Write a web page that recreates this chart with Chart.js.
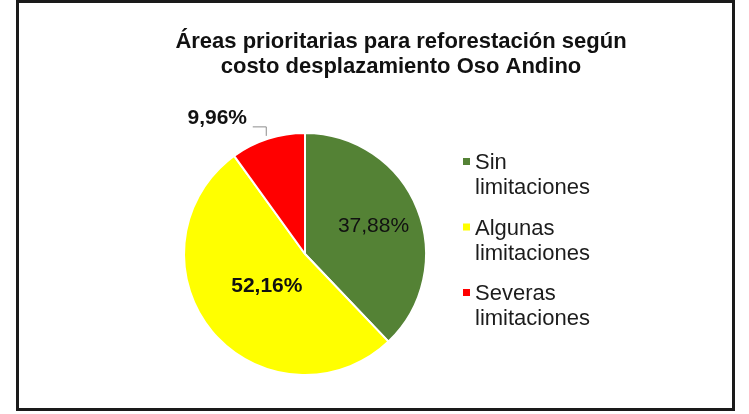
<!DOCTYPE html>
<html>
<head>
<meta charset="utf-8">
<script src="https://cdn.jsdelivr.net/npm/chart.js@4.4.1/dist/chart.umd.min.js"></script>
<style>
  html, body { margin: 0; padding: 0; background: #fff; }
  #wrap { width: 749px; height: 414px; }
</style>
</head>
<body>
<div id="wrap"><canvas id="myChart" width="749" height="414"></canvas></div>
<script>
const titleLines = ['Áreas prioritarias para reforestación según', 'costo desplazamiento Oso Andino'];
const categories = [['Sin', 'limitaciones'], ['Algunas', 'limitaciones'], ['Severas', 'limitaciones']];
const shares = [37.88, 52.16, 9.96];
const sliceColors = ['#548235', '#ffff00', '#ff0000'];

const FONT = '"Liberation Sans", Arial, sans-serif';

function pct(v) {
    return v.toFixed(2).replace('.', ',') + '%';
}

// frame, title, value labels and legend drawn on the canvas
const decorations = {
    id: 'decorations',
    afterDraw(chart) {
        const ctx = chart.ctx;
        ctx.save();

        ctx.strokeStyle = '#1a1a1a';
        ctx.lineWidth = 3;
        ctx.strokeRect(17.5, 1.5, 716, 408);

        ctx.fillStyle = '#111';
        ctx.font = 'bold 22px ' + FONT;
        ctx.textAlign = 'center';
        ctx.textBaseline = 'alphabetic';
        ctx.fillText(titleLines[0], 401, 48);
        ctx.fillText(titleLines[1], 401, 73);

        const arcs = chart.getDatasetMeta(0).data;
        const values = chart.data.datasets[0].data;
        ctx.textBaseline = 'middle';
        arcs.forEach((arc, i) => {
            const mid = (arc.startAngle + arc.endAngle) / 2;
            const r = arc.outerRadius;
            const text = pct(values[i]);
            if (i === 2) {
                // small slice: label outside with a leader line
                const ex = arc.x + Math.cos(mid) * r;
                const ey = arc.y + Math.sin(mid) * r;
                ctx.strokeStyle = '#8c8c8c';
                ctx.lineWidth = 1;
                ctx.beginPath();
                ctx.moveTo(ex - 1.5, ey - 3);
                ctx.lineTo(ex - 1.5, ey - 12);
                ctx.lineTo(ex - 15, ey - 12);
                ctx.stroke();
                ctx.fillStyle = '#111';
                ctx.font = 'bold 21px ' + FONT;
                ctx.fillText(text, ex - 50.5, ey - 20.5);
            } else {
                const f = i === 0 ? 0.61 : 0.41;
                ctx.fillStyle = '#111';
                ctx.font = (i === 1 ? 'bold ' : '') + '21px ' + FONT;
                ctx.fillText(text, arc.x + Math.cos(mid) * r * f, arc.y + Math.sin(mid) * r * f);
            }
        });

        ctx.textAlign = 'left';
        ctx.textBaseline = 'alphabetic';
        ctx.font = '22px ' + FONT;
        chart.data.labels.forEach((lines, i) => {
            const top = 169 + i * 65.5;
            ctx.fillStyle = sliceColors[i];
            ctx.fillRect(463, top - 11, 7, 7);
            ctx.fillStyle = '#1c1c1c';
            lines.forEach((ln, j) => ctx.fillText(ln, 475, top + j * 25));
        });

        ctx.restore();
    }
};

document.addEventListener('DOMContentLoaded', function() {
    const ctx = document.getElementById('myChart').getContext('2d');

    new Chart(ctx, {
        type: 'pie',
        data: {
            labels: categories,
            datasets: [{
                data: shares,
                backgroundColor: sliceColors,
                borderColor: '#ffffff',
                borderWidth: 2,
                hoverOffset: 0
            }]
        },
        options: {
            responsive: false,
            animation: false,
            events: [],
            layout: {
                padding: { left: 183, right: 322, top: 132, bottom: 38 }
            },
            plugins: {
                legend: { display: false },
                title: { display: false },
                tooltip: { enabled: false }
            }
        },
        plugins: [decorations]
    });
});
</script>
</body>
</html>
